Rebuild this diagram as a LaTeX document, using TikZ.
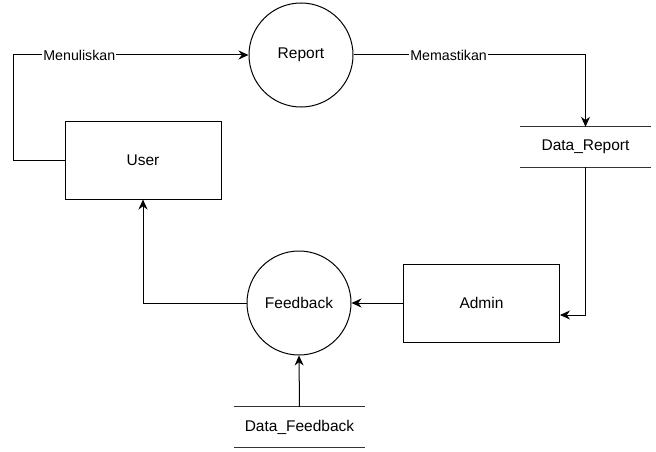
\documentclass[tikz,border=0pt]{standalone}
\usepackage{fontspec}
\setmainfont{Liberation Sans}
\usetikzlibrary{arrows.meta,calc}
\tikzset{
  proc/.style={circle,draw,line width=1pt,minimum size=104pt,inner sep=0pt,font=\fontsize{15.5}{18}\selectfont},
  ent/.style={rectangle,draw,line width=1pt,minimum width=156pt,minimum height=78pt,font=\fontsize{15.5}{18}\selectfont},
  store/.style={rectangle,minimum width=131pt,minimum height=40pt,inner sep=0pt,font=\fontsize{15.5}{18}\selectfont},
  flow/.style={line width=1pt,-{Stealth[length=10pt,width=9pt]}},
  lbl/.style={fill=white,inner sep=1pt,font=\fontsize{14.2}{16}\selectfont}
}
\begin{document}
\begin{tikzpicture}[x=1pt,y=-1pt]
\useasboundingbox (0,0) rectangle (656,452);
% processes and entities
\node[proc] (report) at (301,55) {Report};
\node[proc] (feedback) at (299,303) {Feedback};
\node[ent] (user) at (143,160) {User};
\node[ent] (admin) at (481.5,303) {Admin};
% data stores
\node[store] (dreport) at (585.5,147) {Data\_Report};
\draw[line width=1pt,black!80] (dreport.north west) -- (dreport.north east);
\draw[line width=1pt,black!80] (dreport.south west) -- (dreport.south east);
\node[store] (dfeed) at (299.5,427) {Data\_Feedback};
\draw[line width=1pt,black!80] (dfeed.north west) -- (dfeed.north east);
\draw[line width=1pt,black!80] (dfeed.south west) -- (dfeed.south east);
% flows
\draw[flow] (user.west) -- ++(-51,0) |- (report.west) node[lbl,pos=0.64] {Menuliskan};
\draw[flow] (report.east) -| (dreport.north) node[lbl,pos=0.205] {Memastikan};
\draw[flow] (dreport.south) |- ($(admin.east)+(0,12)$);
\draw[flow] (admin.west) -- (feedback.east);
\draw[flow] (feedback.west) -| (user.south);
\draw[flow] (dfeed.north) -- (feedback.south);
\end{tikzpicture}
\end{document}
